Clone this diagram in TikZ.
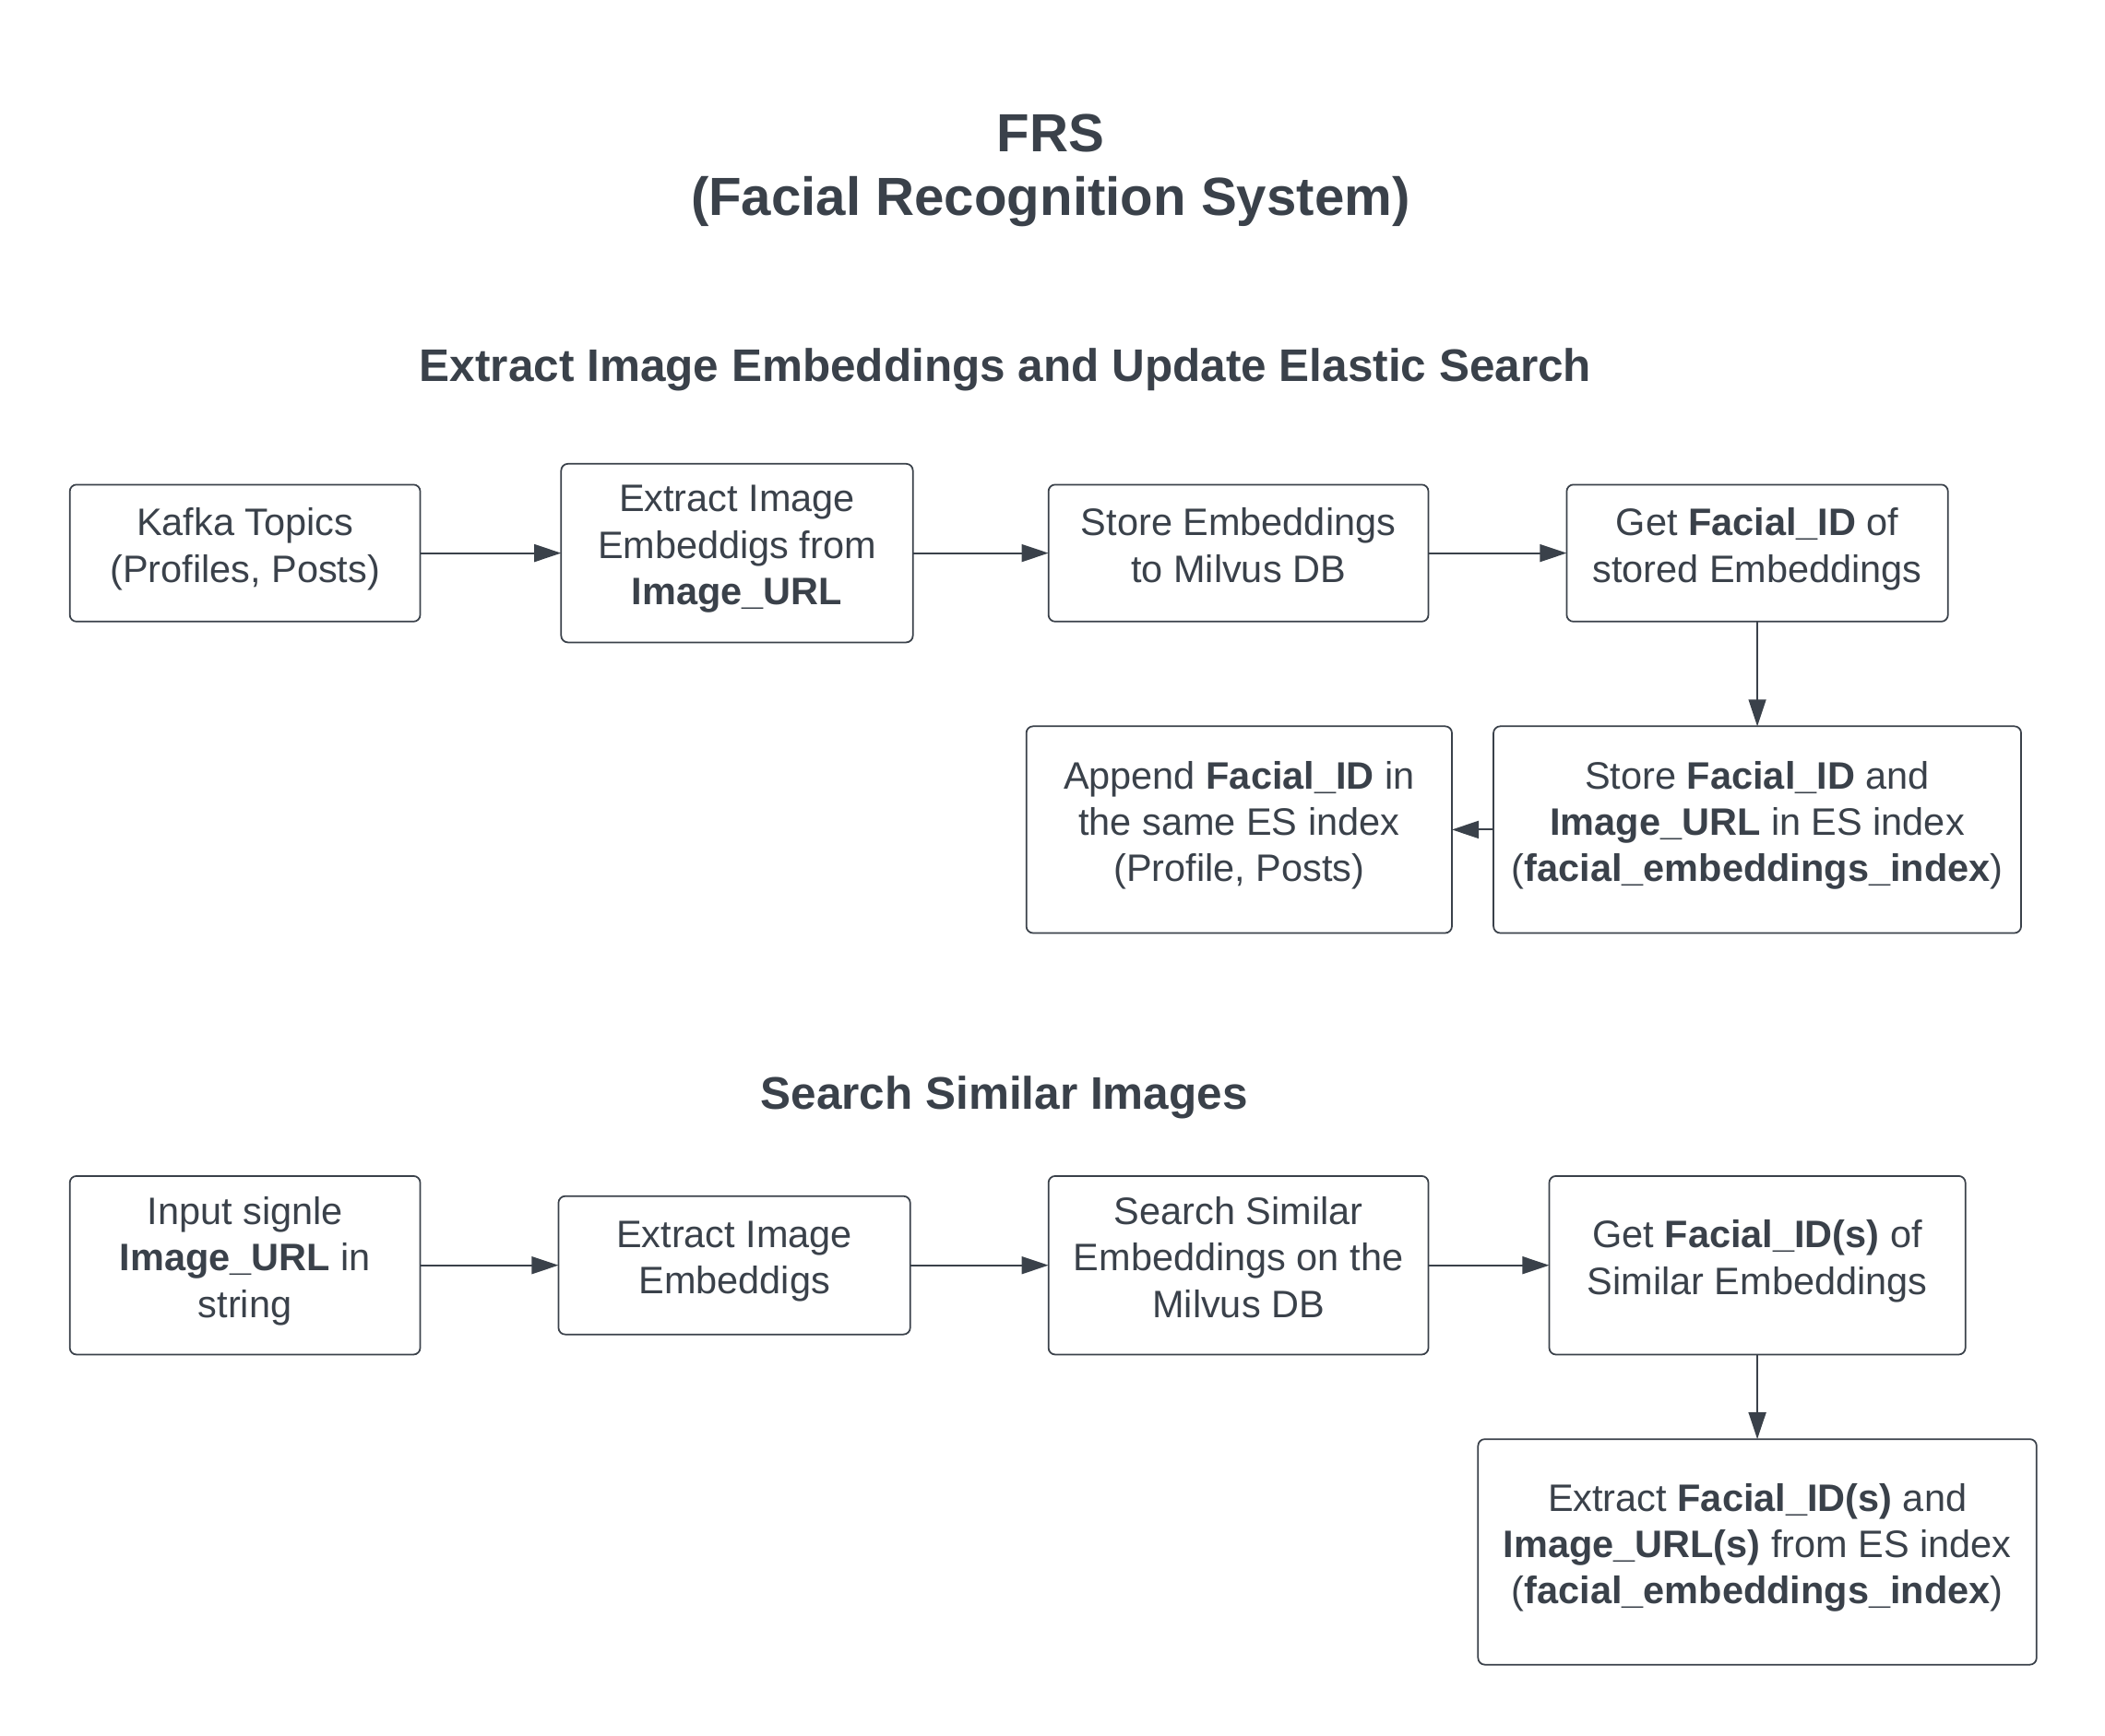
\documentclass[tikz,border=0pt]{standalone}
\usepackage{fontspec}
\setmainfont{Liberation Sans}
\usetikzlibrary{positioning, arrows.meta}
\definecolor{ink}{HTML}{3A414A}

\begin{document}
\begin{tikzpicture}[x=1pt, y=-1pt, node distance=0pt,
  box/.style 2 args = {rectangle, draw=ink, line width=1.2pt,
    rounded corners=5pt, text=ink, align=center, inner sep=0pt,
    outer sep=0pt, font=\fontsize{28.5}{34.5}\selectfont,
    execute at end node={\rule[-12pt]{0pt}{12pt}}, % same depth for every last line
    minimum width=#1, minimum height=#2}, % width and height of box
  arrow/.style = {draw=ink, line width=1.4pt,
    -{Triangle[length=20pt, width=13pt]}}, % styles of arrows
  title/.style = {text=ink, align=center,
    font=\bfseries\fontsize{40}{47}\selectfont},
  heading/.style = {text=ink, font=\bfseries\fontsize{34}{40}\selectfont},
  ]
  \useasboundingbox (0,0) rectangle (1568,1292.5);

  \node[title] (frs) at (782.5,127) {FRS\\(Facial Recognition System)};

  % extract image embeddings and update elastic search
  \node[heading] (upd) at (749,275.5) {Extract Image Embeddings and Update Elastic Search};

  \node[box={261pt}{102pt}] (kafka) at (182.5,412) {Kafka Topics\\(Profiles, Posts)};
  \node[box={262pt}{133pt}, right=105pt of kafka] (extr)
    {Extract Image\\Embeddigs from\\\textbf{Image\_URL}};
  \node[box={283pt}{102pt}, right=101pt of extr] (milvus)
    {Store Embeddings\\to Milvus DB};
  \node[box={284pt}{102pt}, right=103pt of milvus] (getid)
    {Get \textbf{Facial\_ID} of\\stored Embeddings};
  \node[box={393pt}{154pt}, below=78pt of getid] (storeid)
    {Store \textbf{Facial\_ID} and\\\textbf{Image\_URL} in ES index\\(\textbf{facial\_embeddings\_index})};
  \node[box={317pt}{154pt}, left=31pt of storeid] (append)
    {Append \textbf{Facial\_ID} in\\the same ES index\\(Profile, Posts)};

  \draw[arrow] (kafka) -- (extr);
  \draw[arrow] (extr) -- (milvus);
  \draw[arrow] (milvus) -- (getid);
  \draw[arrow] (getid) -- (storeid);
  \draw[arrow] (storeid) -- (append);

  % search similar images
  \node[heading] (srch) at (748,817.5) {Search Similar Images};

  \node[box={261pt}{133pt}] (input) at (182.5,942.5)
    {Input signle\\\textbf{Image\_URL} in\\string};
  \node[box={262pt}{103pt}, right=103pt of input] (extrq)
    {Extract Image\\Embeddigs};
  \node[box={283pt}{133pt}, right=103pt of extrq] (simil)
    {Search Similar\\Embeddings on the\\Milvus DB};
  \node[box={310pt}{133pt}, right=90pt of simil] (getids)
    {Get \textbf{Facial\_ID(s)} of\\Similar Embeddings};
  \node[box={416pt}{168pt}, below=63pt of getids] (extrids)
    {Extract \textbf{Facial\_ID(s)} and\\\textbf{Image\_URL(s)} from ES index\\(\textbf{facial\_embeddings\_index})};

  \draw[arrow] (input) -- (extrq);
  \draw[arrow] (extrq) -- (simil);
  \draw[arrow] (simil) -- (getids);
  \draw[arrow] (getids) -- (extrids);
\end{tikzpicture}
\end{document}
